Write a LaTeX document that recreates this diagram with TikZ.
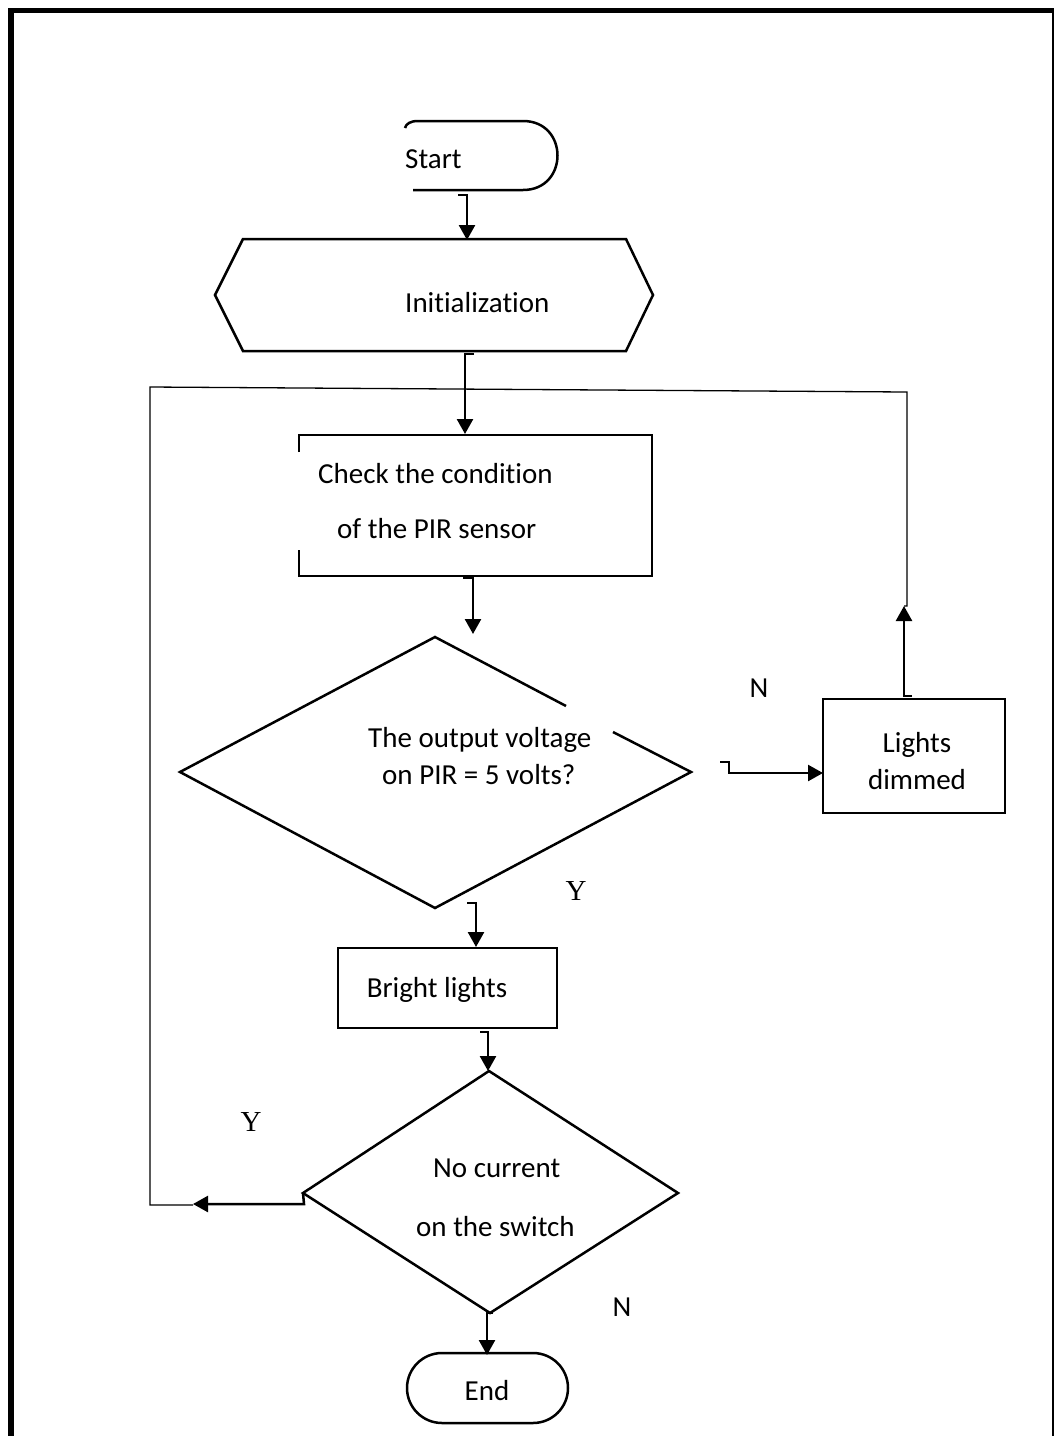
\documentclass[tikz,border=0pt]{standalone}
\usepackage{fontspec}
\setmainfont{Carlito}[RawFeature={-liga,-dlig,-clig}]
\newfontfamily\serifY{Liberation Serif}
\usetikzlibrary{arrows.meta}
\begin{document}
\begin{tikzpicture}[x=1pt,y=-1pt,
  shp/.style={line width=2.5pt, line join=miter},
  conn/.style={line width=2.5pt, -{Triangle[length=15pt,width=16pt]}},
  thinline/.style={line width=1.3pt},
  txt/.style={font=\fontsize{29}{35}\selectfont, inner sep=0pt},
  lw/.style={txt, anchor=base west},
  lc/.style={txt, anchor=base},
  ylab/.style={font=\serifY\fontsize{29}{35}\selectfont, inner sep=0pt, anchor=base},
]
\useasboundingbox (0,0) rectangle (1056,1436);
% frame
\fill (8,8) rectangle (1054,13);
\fill (8,8) rectangle (14,1436);
\draw[line width=1.5pt] (1053,8) -- (1053,1436);

% Start terminal (left end open)
\draw[shp] (413,190) -- (523,190) .. controls (569,190) and (569,121) .. (523,121)
  -- (418,121) .. controls (410,121) and (406,124) .. (405,128);
\node[lw] (start) at (405,168) {Start};

% Initialization hexagon
\draw[shp] (243,239) -- (626,239) -- (653,295) -- (626,351) -- (243,351) -- (215,295) -- cycle;
\node[lw] (init) at (405,312) {Initialization};

% Check box (left edge interrupted)
\draw[shp] (299,452) -- (299,435) -- (652,435) -- (652,576) -- (299,576) -- (299,550);
\node[lw] (check1) at (318,483) {Check the condition};
\node[lw] (check2) at (337,538) {of the PIR sensor};

% Decision 1 (upper right edge interrupted)
\coordinate (d1t) at (435,637);
\coordinate (d1l) at (180,772);
\coordinate (d1r) at (691,772);
\coordinate (d1b) at (435,908);
\draw[shp] (566,706) -- (d1t) -- (d1l) -- (d1b) -- (d1r) -- (613,732);
\node[lw] (dec1a) at (368,747) {The output voltage};
\node[lw] (dec1b) at (382,784) {on PIR = 5 volts?};

% Lights dimmed
\draw[shp] (823,699) rectangle (1005,813);
\node[lc] (dim1) at (917,752) {Lights};
\node[lc] (dim2) at (917,789) {dimmed};
\coordinate (dimL) at (823,773);
\coordinate (dimT) at (904,696);

% Bright lights
\draw[shp] (338,948) rectangle (557,1028);
\node[lc] (bright) at (437,997) {Bright lights};

% Decision 2
\coordinate (d2t) at (489,1071);
\coordinate (d2l) at (303,1193);
\coordinate (d2r) at (678,1193);
\coordinate (d2b) at (490,1313);
\draw[shp] (d2t) -- (d2r) -- (d2b) -- (d2l) -- cycle;
\node[lw] (dec2a) at (433,1177) {No current};
\node[lw] (dec2b) at (416,1236) {on the switch};

% End terminal
\draw[shp, rounded corners=35pt] (407,1353) rectangle (568,1423);
\node[lc] (end) at (487,1400) {End};

% labels
\node[lc] (n1) at (759,697) {N};
\node[lc] (n2) at (622,1316) {N};
\node[ylab] (y1) at (576,900) {Y};
\node[ylab] (y2) at (251,1131) {Y};

% connectors
\coordinate (a1) at (458,195);
\coordinate (a1e) at (467,240);
\draw[conn] (a1) -- (467,195) -- (a1e);

\coordinate (a2) at (474,354);
\coordinate (a2e) at (465,434);
\draw[conn] (a2) -- (465,354) -- (a2e);

\coordinate (a3) at (463,578);
\coordinate (a3e) at (473,634);
\draw[conn] (a3) -- (473,578) -- (a3e);

\coordinate (a4) at (720,762);
\draw[conn] (a4) -- (729,762) -- (729,773) -- (dimL);

\coordinate (a5) at (467,903);
\coordinate (a5e) at (476,947);
\draw[conn] (a5) -- (476,903) -- (a5e);

\coordinate (a6) at (480,1032);
\coordinate (a6e) at (488,1071);
\draw[conn] (a6) -- (488,1032) -- (a6e);

\coordinate (a7) at (493,1313);
\coordinate (a7e) at (487,1355);
\draw[conn] (a7) -- (487,1313) -- (a7e);

% loop back from lights dimmed
\coordinate (upTip) at (904,606);
\draw[conn] (912,696) -- (dimT) -- (upTip);
\coordinate (loopR) at (907,392);
\coordinate (loopL) at (150,387);
\draw[thinline] (upTip) -- (907,606) -- (loopR) -- (loopL) -- (150,1205) -- (193,1205);

% Y from decision 2 back
\coordinate (leftTip) at (193,1204);
\draw[conn] (d2l) -- (304,1204) -- (leftTip);
\end{tikzpicture}
\end{document}
